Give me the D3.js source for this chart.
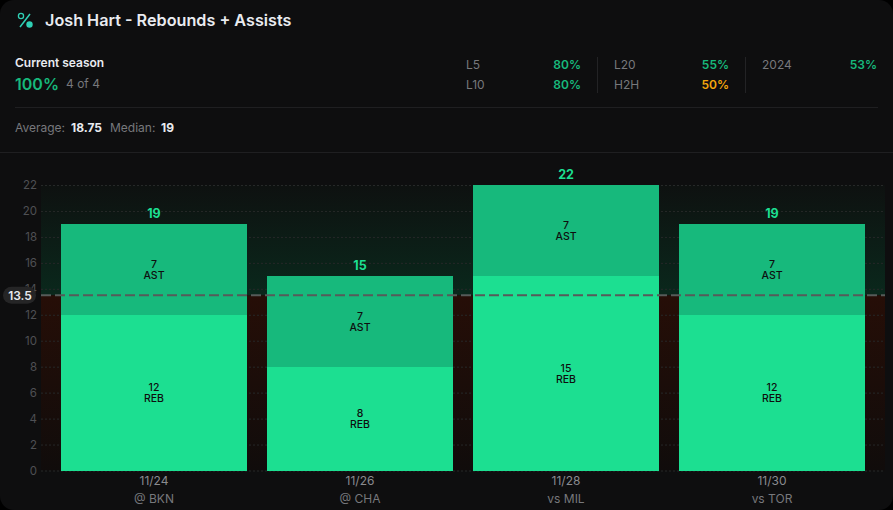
<!DOCTYPE html>
<html>
<head>
<meta charset="utf-8">
<script src="https://cdn.jsdelivr.net/npm/d3@7"></script>
<style>
	html, body { margin: 0; padding: 0; background: #000; overflow: hidden; }
	svg { display: block; }
	text { font-family: Inter, sans-serif; }
</style>
</head>
<body>
<div id="container"></div>
<script>
const dates = ['11/24', '11/26', '11/28', '11/30'];
const opponents = ['@ BKN', '@ CHA', 'vs MIL', 'vs TOR'];
const rebounds = [12, 8, 15, 12];
const assists = [7, 7, 7, 7];
const yTicks = [0, 2, 4, 6, 8, 10, 12, 14, 16, 18, 20, 22];
const line = 13.5;
const hitLabels = [['L5', '80%'], ['L10', '80%'], ['L20', '55%'], ['H2H', '50%'], ['2024', '53%']];

const width = 893, height = 510;
const green = '#1cdf91', darkGreen = '#17b97c';

let svg = d3.select('#container').append('svg')
	.attr('width', width)
	.attr('height', height);

let defs = svg.append('defs');
let overGrad = defs.append('linearGradient').attr('id', 'over').attr('x1', 0).attr('x2', 0).attr('y1', 0).attr('y2', 1);
overGrad.append('stop').attr('offset', 0).attr('stop-color', '#0e1110');
overGrad.append('stop').attr('offset', 1).attr('stop-color', '#0a281c');
let underGrad = defs.append('linearGradient').attr('id', 'under').attr('x1', 0).attr('x2', 0).attr('y1', 0).attr('y2', 1);
underGrad.append('stop').attr('offset', 0).attr('stop-color', '#260e07');
underGrad.append('stop').attr('offset', 1).attr('stop-color', '#100c0b');

// card
svg.append('rect').attr('width', width).attr('height', height).attr('rx', 14).attr('fill', '#0e0e0f');

// header
svg.append('text').attr('x', 45).attr('y', 26).attr('fill', '#e9ebf0')
	.attr('font-size', 16.2).attr('font-weight', 600).text('Josh Hart - Rebounds + Assists');
svg.append('text').attr('x', 15).attr('y', 67).attr('fill', '#e9ebf0')
	.attr('font-size', 12).attr('font-weight', 600).text('Current season');
svg.append('text').attr('x', 15).attr('y', 90).attr('fill', '#17b97c')
	.attr('font-size', 16).attr('font-weight', 600).text('100%');
svg.append('text').attr('x', 66).attr('y', 88).attr('fill', '#77787c')
	.attr('font-size', 12).text('4 of 4');

// percent icon
svg.append('line').attr('x1', 20).attr('y1', 27).attr('x2', 30).attr('y2', 14)
	.attr('stroke', '#2fd0b5').attr('stroke-width', 1.5);
svg.append('circle').attr('cx', 21).attr('cy', 16).attr('r', 2.6)
	.attr('fill', 'none').attr('stroke', '#2fd0b5').attr('stroke-width', 1.3);
svg.append('circle').attr('cx', 29.5).attr('cy', 24.5).attr('r', 3.2).attr('fill', '#2fd0b5');

// hit rate table
let hitX = [466, 466, 614, 614, 762];
let hitRight = [581, 581, 729, 729, 877];
let hitY = [69, 89, 69, 89, 69];
hitLabels.forEach((d, i) => {
	svg.append('text').attr('x', hitX[i]).attr('y', hitY[i]).attr('fill', '#77787c')
		.attr('font-size', 12).text(d[0]);
	svg.append('text').attr('x', hitRight[i]).attr('y', hitY[i])
		.attr('text-anchor', 'end')
		.attr('fill', d[1] === '50%' ? '#f5a70c' : '#17b97c')
		.attr('font-size', 12).attr('font-weight', 600).text(d[1]);
});
[597.5, 745.5].forEach(x => {
	svg.append('line').attr('x1', x).attr('x2', x).attr('y1', 57).attr('y2', 93).attr('stroke', '#232325');
});

// dividers
[107.5, 152.5].forEach(y => {
	svg.append('line').attr('x1', y < 110 ? 15 : 0).attr('x2', y < 110 ? 878 : width)
		.attr('y1', y).attr('y2', y).attr('stroke', '#1f1f21');
});

svg.append('text').attr('x', 15).attr('y', 132).attr('fill', '#77787c').attr('font-size', 12).text('Average:');
svg.append('text').attr('x', 71).attr('y', 132).attr('fill', '#e9ebf0').attr('font-size', 12).attr('font-weight', 700)
	.text(d3.mean(rebounds.map((r, i) => r + assists[i])));
svg.append('text').attr('x', 110).attr('y', 132).attr('fill', '#77787c').attr('font-size', 12).text('Median:');
svg.append('text').attr('x', 161).attr('y', 132).attr('fill', '#e9ebf0').attr('font-size', 12).attr('font-weight', 700)
	.text(d3.median(rebounds.map((r, i) => r + assists[i])));

// chart
let x = d3.scaleBand().domain(dates).range([41, 885]).padding(0.097);
let y = d3.scaleLinear().domain([0, 22]).range([470.5, 185]);

svg.append('rect').attr('x', 41).attr('width', 844).attr('y', y(22)).attr('height', y(line) - y(22)).attr('fill', 'url(#over)');
svg.append('rect').attr('x', 41).attr('width', 844).attr('y', y(line)).attr('height', y(0) - y(line)).attr('fill', 'url(#under)');

let yAxis = svg.append('g').attr('transform', 'translate(41,0)')
	.call(d3.axisLeft(y).tickValues(yTicks).tickSize(0).tickPadding(4));
yAxis.select('.domain').remove();
yAxis.selectAll('text').attr('fill', '#4f5054').attr('font-size', 11.5).attr('font-family', 'Inter, sans-serif');

svg.append('g').selectAll('line').data(yTicks).enter().append('line')
	.attr('x1', 41).attr('x2', 885)
	.attr('y1', d => y(d) + 0.5).attr('y2', d => y(d) + 0.5)
	.attr('stroke', '#262828').attr('stroke-dasharray', '2,2');

let bars = svg.append('g').selectAll('g').data(dates).enter().append('g');

bars.append('rect')
	.attr('shape-rendering', 'crispEdges')
	.attr('x', d => x(d))
	.attr('width', x.bandwidth())
	.attr('y', (d, i) => y(rebounds[i]))
	.attr('height', (d, i) => y(0) - y(rebounds[i]))
	.attr('fill', green);
bars.append('rect')
	.attr('shape-rendering', 'crispEdges')
	.attr('x', d => x(d))
	.attr('width', x.bandwidth())
	.attr('y', (d, i) => y(rebounds[i] + assists[i]))
	.attr('height', (d, i) => y(rebounds[i]) - y(rebounds[i] + assists[i]))
	.attr('fill', darkGreen);

// value and name share one text, two lines
function segmentLabel(values, base, name) {
	let label = bars.append('text')
		.attr('text-anchor', 'middle').attr('fill', '#0e0e0f')
		.attr('font-size', 10.5).attr('font-weight', 500);
	label.append('tspan')
		.attr('x', d => x(d) + x.bandwidth() / 2)
		.attr('y', (d, i) => y(base(i) + values[i] / 2) - 1.5)
		.text((d, i) => values[i]);
	label.append('tspan')
		.attr('x', d => x(d) + x.bandwidth() / 2)
		.attr('y', (d, i) => y(base(i) + values[i] / 2) + 9.5)
		.text(name);
}
segmentLabel(rebounds, () => 0, 'REB');
segmentLabel(assists, i => rebounds[i], 'AST');

bars.append('text')
	.attr('x', d => x(d) + x.bandwidth() / 2)
	.attr('y', (d, i) => y(rebounds[i] + assists[i]) - 6)
	.attr('text-anchor', 'middle').attr('fill', green)
	.attr('font-size', 12.5).attr('font-weight', 700)
	.text((d, i) => rebounds[i] + assists[i]);

let xAxis = svg.append('g').attr('transform', 'translate(0,470.5)')
	.call(d3.axisBottom(x).tickSize(0).tickPadding(6));
xAxis.select('.domain').remove();
xAxis.selectAll('text').attr('fill', '#8a8b8f').attr('font-size', 12).attr('font-family', 'Inter, sans-serif');

bars.append('text')
	.attr('x', d => x(d) + x.bandwidth() / 2)
	.attr('y', 503)
	.attr('text-anchor', 'middle').attr('fill', '#77787c').attr('font-size', 12)
	.text((d, i) => opponents[i]);

// line marker
svg.append('line').attr('x1', 41).attr('x2', 885).attr('y1', y(line)).attr('y2', y(line))
	.attr('stroke', '#565b59').attr('stroke-width', 2).attr('stroke-dasharray', '10,4');
svg.append('rect').attr('x', 3).attr('y', y(line) - 8.5).attr('width', 33).attr('height', 17).attr('rx', 8.5)
	.attr('fill', '#252526');
svg.append('text').attr('x', 20).attr('y', y(line) + 4.5).attr('text-anchor', 'middle')
	.attr('fill', '#e9ebf0').attr('font-size', 12).attr('font-weight', 600).text(line);
</script>
</body>
</html>
